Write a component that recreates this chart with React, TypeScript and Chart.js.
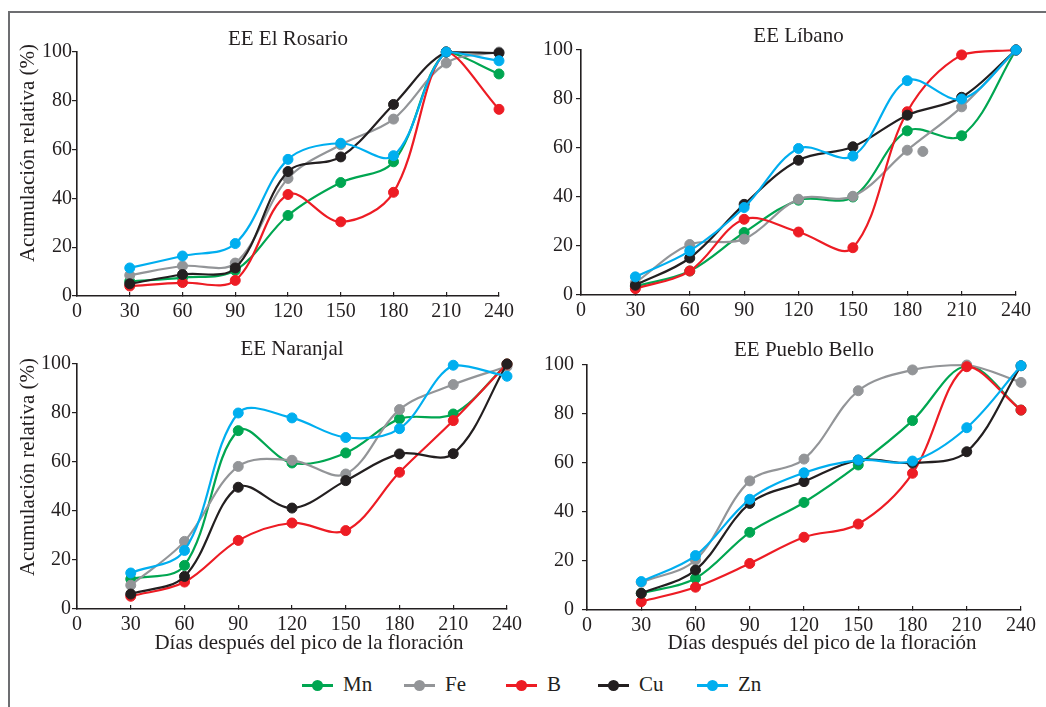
import React, { useEffect, useRef } from "react";
import { Chart, registerables } from "chart.js";

Chart.register(...registerables);

// ---------- data ----------
const DAYS = [30, 60, 90, 120, 150, 180, 210, 240];
const ELEMENTS = ["Mn", "Fe", "B", "Cu", "Zn"];
const COLORS = ["#00a651", "#939598", "#ed1c24", "#231f20", "#00aeef"];
const X_LABEL = "Días después del pico de la floración";
const Y_LABEL = "Acumulación relativa (%)";

const rosarioMn = [6, 7.5, 10.5, 33, 46.5, 55, 100, 91];
const rosarioFe = [8.5, 12.3, 13.5, 48.2, 62, 72.5, 95.5, 100];
const rosarioB = [4.1, 5.5, 6.4, 41.6, 30.4, 42.5, 100, 76.5];
const rosarioCu = [5, 8.8, 11.5, 51, 57, 78.5, 100, 99.6];
const rosarioZn = [11.5, 16.4, 21.5, 56, 62.6, 57.5, 100, 96.4];

const libanoMn = [3.5, 9.8, 25.5, 38.7, 40, 67, 65, 100];
const libanoFe = [5, 20.6, 22.8, 39.1, 40.3, 59.1, 76.8, 100];
const libanoB = [2.6, 9.8, 30.9, 25.7, 19.3, 74.8, 98, 100];
const libanoCu = [4, 15.1, 37, 55, 60.5, 73.4, 80.7, 100];
const libanoZn = [7.4, 18, 35.7, 59.8, 56.7, 87.5, 80, 100];
const libanoFeExtraX = [188.6];
const libanoFeExtraY = [58.6];

const naranjalMn = [12.2, 17.8, 72.8, 59.6, 63.7, 77.6, 79.6, 100];
const naranjalFe = [9.7, 27.6, 58.2, 60.7, 55.1, 81.4, 91.6, 99];
const naranjalB = [5.2, 11, 28, 35.1, 32, 55.8, 76.9, 100];
const naranjalCu = [6.1, 13.3, 49.7, 41.2, 52.4, 63.3, 63.4, 100];
const naranjalZn = [14.7, 23.9, 80, 78, 70, 73.6, 99.5, 95];

const puebloMn = [6.8, 12.9, 31.7, 43.9, 59.2, 77.3, 99.6, 81.6];
const puebloFe = [11.3, 20.4, 52.7, 61.6, 89.5, 98, 100, 92.9];
const puebloB = [3.4, 9.3, 19, 29.7, 35.1, 55.8, 99.3, 81.6];
const puebloCu = [6.8, 16.3, 43.5, 52.4, 61.2, 60, 64.6, 99.7];
const puebloZn = [11.6, 22.2, 45.2, 56, 61.2, 60.8, 74.4, 99.7];

// ---------- style / layout ----------
const FONT = "'Liberation Serif', 'Times New Roman', Times, serif";
const INK = "#231f20";

type Geo = {
  left: number; top: number; width: number; height: number;
  yw: number; xh: number; padR: number; tTop: number; tBottom: number; yPad: number;
};

const PANELS: { title: string; series: number[][]; extraX?: number[]; extraY?: number[]; geo: Geo }[] = [
  {
    title: "EE El Rosario",
    series: [rosarioMn, rosarioFe, rosarioB, rosarioCu, rosarioZn],
    geo: { left: 10, top: 14, width: 512, height: 316, yw: 67, xh: 34, padR: 20, tTop: 12.4, tBottom: 0.4, yPad: 0 },
  },
  {
    title: "EE Líbano",
    series: [libanoMn, libanoFe, libanoB, libanoCu, libanoZn],
    extraX: libanoFeExtraX,
    extraY: libanoFeExtraY,
    geo: { left: 525, top: 14, width: 514, height: 316, yw: 56, xh: 35, padR: 22, tTop: 9.4, tBottom: 1.4, yPad: 3 },
  },
  {
    title: "EE Naranjal",
    series: [naranjalMn, naranjalFe, naranjalB, naranjalCu, naranjalZn],
    geo: { left: 10, top: 330, width: 520, height: 309, yw: 67, xh: 30, padR: 21, tTop: 6.7, tBottom: 2.1, yPad: 1 },
  },
  {
    title: "EE Pueblo Bello",
    series: [puebloMn, puebloFe, puebloB, puebloCu, puebloZn],
    geo: { left: 527, top: 330, width: 517, height: 310, yw: 60, xh: 30, padR: 22, tTop: 7.7, tBottom: 2.1, yPad: 8 },
  },
];

const LEGEND_X = [302, 404, 506, 598, 697];

function Panel({ title, series, extraX, extraY, geo }: any) {
  const ref = useRef<HTMLCanvasElement>(null);
  useEffect(() => {
    const canvas = ref.current;
    if (!canvas) return;
    const datasets: any[] = series.map((vals: number[], i: number) => ({
      label: ELEMENTS[i],
      data: DAYS.map((d, k) => ({ x: d, y: vals[k] })),
      borderColor: COLORS[i],
      backgroundColor: COLORS[i],
      pointBackgroundColor: COLORS[i],
      pointBorderColor: COLORS[i],
      pointRadius: 5,
      pointBorderWidth: 1,
      borderWidth: 2.2,
      tension: 0.35,
      clip: false,
      order: 5 - i,
    }));
    if (extraX && extraY) {
      datasets.push({
        label: "Fe extra",
        data: extraX.map((x: number, k: number) => ({ x, y: extraY[k] })),
        showLine: false,
        borderColor: COLORS[1],
        backgroundColor: COLORS[1],
        pointBackgroundColor: COLORS[1],
        pointBorderColor: COLORS[1],
        pointRadius: 5,
        pointBorderWidth: 1,
        clip: false,
        order: 4,
      });
    }
    const tickFont = { family: FONT, size: 20, weight: "normal" as const };
    const chart = new Chart(canvas, {
      type: "line",
      data: { datasets },
      options: {
        responsive: false,
        animation: false,
        events: [],
        font: { family: FONT },
        layout: { padding: { left: 0, right: geo.padR, top: 0, bottom: 0 } },
        plugins: {
          legend: { display: false },
          tooltip: { enabled: false },
          title: {
            display: true,
            text: title,
            fullSize: false,
            color: INK,
            font: { family: FONT, size: 21, weight: "normal" },
            padding: { top: geo.tTop, bottom: geo.tBottom },
          },
        },
        scales: {
          x: {
            type: "linear",
            min: 0,
            max: 240,
            afterFit: (s: any) => { s.height = geo.xh; },
            ticks: { stepSize: 30, color: INK, font: tickFont, padding: 8, maxRotation: 0, autoSkip: false },
            grid: { drawOnChartArea: false, tickLength: -4, color: INK, lineWidth: 1.2 },
            border: { color: INK, width: 1.6 },
          },
          y: {
            min: 0,
            max: 100,
            afterFit: (s: any) => { s.width = geo.yw; },
            ticks: { stepSize: 20, color: INK, font: tickFont, padding: geo.yPad },
            grid: { drawOnChartArea: false, tickLength: 5, color: INK, lineWidth: 1.2 },
            border: { color: INK, width: 1.6 },
          },
        },
      },
    } as any);
    return () => chart.destroy();
  }, []);
  return (
    <canvas
      ref={ref}
      width={geo.width}
      height={geo.height}
      style={{ position: "absolute", left: geo.left, top: geo.top, width: geo.width, height: geo.height }}
    />
  );
}

const textBase: React.CSSProperties = {
  position: "absolute",
  fontFamily: FONT,
  fontSize: 21,
  lineHeight: "24px",
  color: INK,
  whiteSpace: "nowrap",
};

function YTitle({ cx, cy }: { cx: number; cy: number }) {
  return (
    <div
      style={{
        ...textBase,
        left: cx - 150,
        top: cy - 12,
        width: 300,
        height: 24,
        textAlign: "center",
        transform: "rotate(-90deg)",
        transformOrigin: "50% 50%",
      }}
    >
      {Y_LABEL}
    </div>
  );
}

function XTitle({ cx, top }: { cx: number; top: number }) {
  return (
    <div style={{ ...textBase, left: cx - 200, top, width: 400, height: 24, textAlign: "center" }}>{X_LABEL}</div>
  );
}

export default function App() {
  return (
    <div style={{ position: "absolute", left: 0, top: 0, width: 1046, height: 707, overflow: "hidden", background: "#ffffff" }}>
      <div
        style={{
          position: "absolute",
          left: 8,
          top: 11,
          width: 1100,
          height: 800,
          border: "2px solid #6d6e71",
          boxSizing: "border-box",
        }}
      />
      {PANELS.map((p, i) => (
        <Panel key={i} {...p} />
      ))}
      <YTitle cx={26.5} cy={153} />
      <YTitle cx={26.5} cy={467} />
      <XTitle cx={309} top={630} />
      <XTitle cx={822} top={630} />
      {ELEMENTS.map((name, i) => (
        <div key={name} style={{ position: "absolute", left: LEGEND_X[i], top: 672, height: 26 }}>
          <div style={{ position: "absolute", left: 0, top: 12, width: 31, height: 3, background: COLORS[i] }} />
          <div
            style={{
              position: "absolute",
              left: 10,
              top: 8,
              width: 11,
              height: 11,
              borderRadius: "50%",
              background: COLORS[i],
            }}
          />
          <div style={{ ...textBase, left: 41, top: 0 }}>{name}</div>
        </div>
      ))}
    </div>
  );
}
